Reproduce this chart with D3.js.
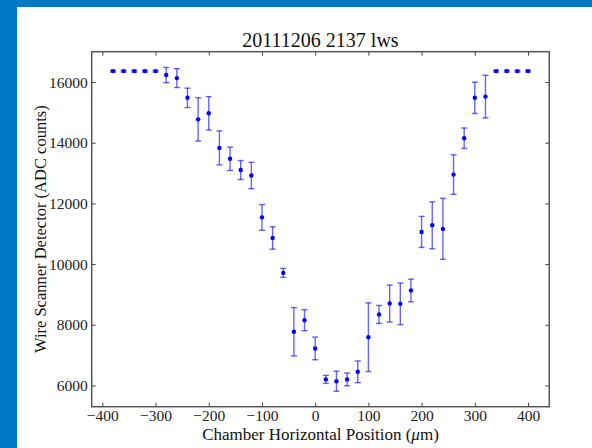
<!DOCTYPE html>
<html>
<head>
<meta charset="utf-8">
<script src="https://cdn.jsdelivr.net/npm/d3@7"></script>
<style>
  html, body { margin: 0; padding: 0; background: #fff; }
  svg { display: block; }
  .axis text { font-family: "Liberation Serif", "DejaVu Serif", serif; font-size: 15.5px; fill: #222; }
  .axis path { display: none; }
  .axis line { stroke: #444; stroke-width: 1; }
</style>
</head>
<body>
<svg id="chart"></svg>
<script>
// scan positions (um), mean detector counts and error bar half widths
const positions = [-380, -360, -340, -320, -300, -280, -260, -240, -220, -200,
  -180, -160, -140, -120, -100, -80, -60, -40, -20, 0,
  20, 40, 60, 80, 100, 120, 140, 160, 180, 200,
  220, 240, 260, 280, 300, 320, 340, 360, 380, 400];
const counts = [16360, 16360, 16360, 16360, 16360, 16230, 16130, 15480, 14770, 14970,
  13830, 13470, 13100, 12920, 11540, 10860, 9710, 7770, 8150, 7220,
  6200, 6140, 6200, 6450, 7590, 8340, 8700, 8690, 9130, 11060,
  11280, 11160, 12950, 14150, 15480, 15520, 16360, 16360, 16360, 16360];
const errors = [30, 30, 30, 30, 30, 250, 310, 320, 715, 550,
  560, 385, 313, 434, 423, 369, 148, 797, 346, 373,
  132, 330, 209, 357, 1131, 297, 610, 686, 373, 511,
  774, 1005, 652, 336, 516, 703, 30, 30, 30, 30];
const xTicks = [-400, -300, -200, -100, 0, 100, 200, 300, 400];
const yTicks = [6000, 8000, 10000, 12000, 14000, 16000];

const W = 592, H = 448;
const margin = { top: 51.7, right: 42.7, bottom: 41.3, left: 91.7 };

const svg = d3.select('#chart').attr('width', W).attr('height', H);

// blue slide background with white panel
svg.append('rect').attr('width', W).attr('height', H).attr('fill', '#0179c2');
svg.append('rect').attr('x', 17).attr('y', 7).attr('width', W - 17).attr('height', H - 7).attr('fill', '#fff');

const x = d3.scaleLinear().domain([-420, 440]).range([margin.left, W - margin.right]);
const y = d3.scaleLinear().domain([5300, 17000]).range([H - margin.bottom, margin.top]);

const data = positions.map((p, i) => ({ p, v: counts[i], e: errors[i] }));

// axes, ticks pointing inward
svg.append('g').attr('class', 'axis')
  .attr('transform', `translate(0,${H - margin.bottom})`)
  .call(d3.axisBottom(x).tickValues(xTicks).tickSize(-4).tickPadding(3.5));
svg.append('g').attr('class', 'axis')
  .attr('transform', `translate(0,${margin.top})`)
  .call(d3.axisTop(x).tickValues(xTicks).tickSize(-4).tickFormat(''));
svg.append('g').attr('class', 'axis')
  .attr('transform', `translate(${margin.left},0)`)
  .call(d3.axisLeft(y).tickValues(yTicks).tickSize(-4).tickPadding(4).tickFormat(d3.format('d')));
svg.append('g').attr('class', 'axis')
  .attr('transform', `translate(${W - margin.right},0)`)
  .call(d3.axisRight(y).tickValues(yTicks).tickSize(-4).tickFormat(''));

// error bars
const eb = svg.append('g').attr('stroke', '#0000ff').attr('stroke-opacity', 0.6).attr('stroke-width', 1.4);
data.forEach(d => {
  const cx = x(d.p);
  eb.append('line').attr('x1', cx).attr('x2', cx).attr('y1', y(d.v - d.e)).attr('y2', y(d.v + d.e));
  eb.append('line').attr('x1', cx - 3).attr('x2', cx + 3).attr('y1', y(d.v - d.e)).attr('y2', y(d.v - d.e));
  eb.append('line').attr('x1', cx - 3).attr('x2', cx + 3).attr('y1', y(d.v + d.e)).attr('y2', y(d.v + d.e));
});

svg.append('g').selectAll('circle').data(data).join('circle')
  .attr('cx', d => x(d.p)).attr('cy', d => y(d.v)).attr('r', 2.2).attr('fill', '#0000ff');

// frame
svg.append('rect')
  .attr('x', margin.left).attr('y', margin.top)
  .attr('width', W - margin.left - margin.right).attr('height', H - margin.top - margin.bottom)
  .attr('fill', 'none').attr('stroke', '#555').attr('stroke-width', 1.5);

const serif = '"Liberation Serif", "DejaVu Serif", serif';
const midX = (margin.left + W - margin.right) / 2;

svg.append('text').attr('x', midX).attr('y', 46.5).attr('text-anchor', 'middle')
  .style('font-family', serif).style('font-size', '20px').attr('fill', '#111')
  .text('20111206 2137 lws');

const xl = svg.append('text').attr('x', midX).attr('y', 440).attr('text-anchor', 'middle')
  .style('font-family', serif).style('font-size', '17px').attr('fill', '#111');
xl.append('tspan').text('Chamber Horizontal Position (');
xl.append('tspan').style('font-style', 'italic').text('μ');
xl.append('tspan').text('m)');

svg.append('text')
  .attr('transform', `translate(46,${(margin.top + H - margin.bottom) / 2}) rotate(-90)`)
  .attr('text-anchor', 'middle')
  .style('font-family', serif).style('font-size', '16.5px').attr('fill', '#111')
  .text('Wire Scanner Detector (ADC counts)');
</script>
</body>
</html>
